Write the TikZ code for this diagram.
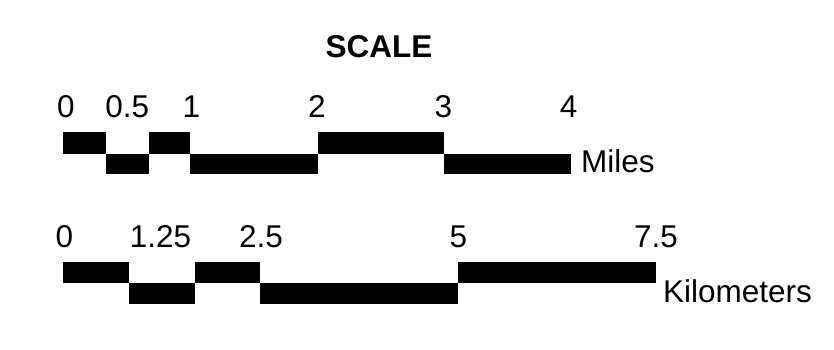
\documentclass[tikz,border=0pt]{standalone}
\usepackage{fontspec}
\setmainfont{Liberation Sans}
\begin{document}
\begin{tikzpicture}[x=1pt,y=-1pt,
  seg/.style={fill=black,draw=none},
  lbl/.style={anchor=base,inner sep=0pt,font=\fontsize{31.5}{36}\selectfont},
  unit/.style={anchor=base west,inner sep=0pt,font=\fontsize{31.5}{36}\selectfont},
  ttl/.style={anchor=base,inner sep=0pt,font=\fontsize{31.5}{36}\selectfont\bfseries}]
\useasboundingbox (0,0) rectangle (834,349);
% title
\node[ttl] (title) at (379,57) {SCALE};
% miles labels
\node[lbl] (m0) at (65.8,117.5) {0};
\node[lbl] (m05) at (127.3,117.5) {0.5};
\node[lbl] (m1) at (191.5,117.5) {1};
\node[lbl] (m2) at (317,117.5) {2};
\node[lbl] (m3) at (443.5,117.5) {3};
\node[lbl] (m4) at (568.5,117.5) {4};
% miles bar
\fill[seg] (63,132) rectangle (106,153.5);
\fill[seg] (106,153.5) rectangle (148.5,174);
\fill[seg] (148.5,132) rectangle (190,153.5);
\fill[seg] (190,153.5) rectangle (317.5,174);
\fill[seg] (317.5,132) rectangle (444,153.5);
\fill[seg] (444,153.5) rectangle (571,174);
\node[unit] (miles) at (581,172) {Miles};
% km labels
\node[lbl] (k0) at (64.5,247) {0};
\node[lbl] (k125) at (160.5,247) {1.25};
\node[lbl] (k25) at (261,247) {2.5};
\node[lbl] (k5) at (458.5,247) {5};
\node[lbl] (k75) at (656,247) {7.5};
% km bar
\fill[seg] (63,262) rectangle (129,283);
\fill[seg] (129,283) rectangle (195,304);
\fill[seg] (195,262) rectangle (260,283);
\fill[seg] (260,283) rectangle (457.5,304);
\fill[seg] (457.5,262) rectangle (656,283);
\node[unit] (km) at (663,302) {Kilometers};
\end{tikzpicture}
\end{document}
